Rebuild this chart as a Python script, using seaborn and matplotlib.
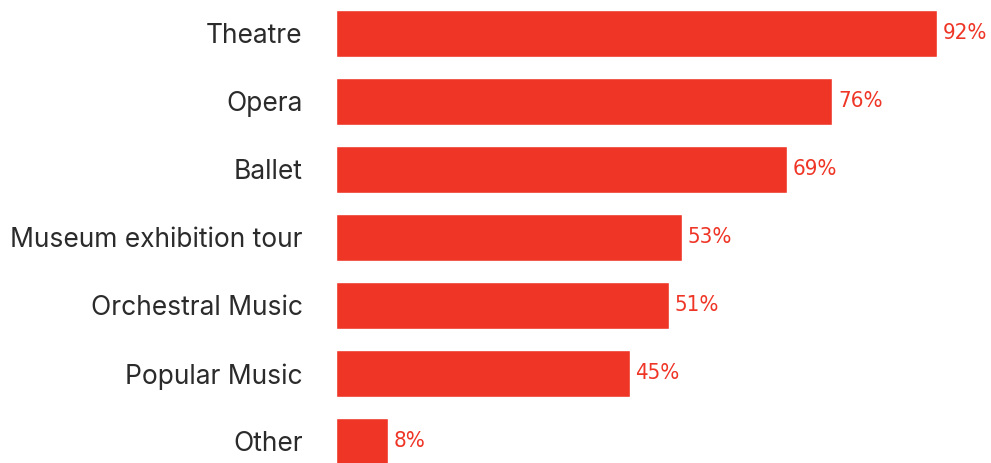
import matplotlib
matplotlib.use("Agg")
import matplotlib.pyplot as plt
import seaborn as sns
import pandas as pd

categories = ["Theatre", "Opera", "Ballet", "Museum exhibition tour",
              "Orchestral Music", "Popular Music", "Other"]
shares = [92, 76, 69, 53, 51, 45, 8]
value_labels = ["92%", "76%", "69%", "53%", "51%", "45%", "8%"]

df = pd.DataFrame({"category": categories, "share": shares})

sns.set_theme(style="white")
plt.rcParams["font.family"] = ["Inter", "DejaVu Sans"]

W, H, DPI = 991, 463, 100
fig = plt.figure(figsize=(W / DPI, H / DPI), dpi=DPI)
left_px = 336
ax = fig.add_axes([left_px / W, 0, 1 - left_px / W, 1])

red = "#EF3526"
sns.barplot(data=df, x="share", y="category", color=red, width=0.69,
            saturation=1, ax=ax, orient="h")

px_per_unit = 601 / 92
ax.set_xlim(0, (W - left_px) / px_per_unit)
pitch = 68
ax.set_ylim((H - 33.5) / pitch, -33.5 / pitch)

for i, (v, lab) in enumerate(zip(shares, value_labels)):
    ax.annotate(lab, xy=(v, i), xytext=(4, 0), textcoords="offset points",
                ha="left", va="center", color=red, fontsize=16,
                family="DejaVu Sans", fontstretch="condensed",
                fontweight="light")

ax.set_xlabel("")
ax.set_ylabel("")
ax.set_xticks([])
ax.tick_params(axis="y", length=0, pad=24, labelsize=19, labelcolor="#2b2b2b")
for s in ax.spines.values():
    s.set_visible(False)

fig.savefig("out.png", dpi=DPI)
